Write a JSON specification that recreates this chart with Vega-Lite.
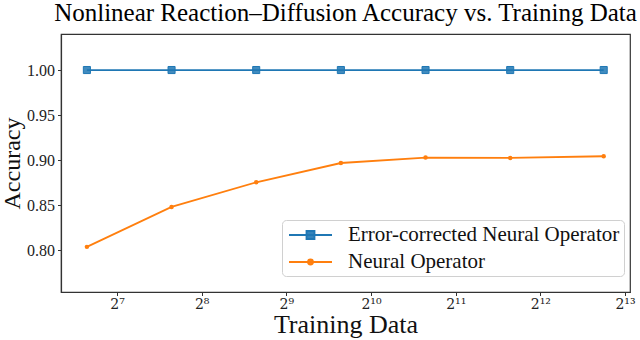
{
  "$schema": "https://vega.github.io/schema/vega-lite/v6.json",
  "autosize": {"type": "none"},
  "padding": {"left": 61, "top": 34, "right": 10, "bottom": 48},
  "width": 569,
  "height": 258,
  "background": "white",
  "title": {
    "text": "Nonlinear Reaction–Diffusion Accuracy vs. Training Data",
    "font": "Liberation Serif",
    "fontSize": 25,
    "fontWeight": "normal",
    "color": "black",
    "anchor": "middle",
    "frame": "group",
    "baseline": "bottom",
    "offset": 6,
    "dy": 23
  },
  "config": {
    "view": {"stroke": "#333333", "strokeWidth": 1.2},
    "axis": {
      "grid": false,
      "domainColor": "#333333",
      "domainWidth": 1.2,
      "tickColor": "#333333",
      "tickSize": 3.5,
      "tickWidth": 1,
      "labelFont": "Liberation Serif",
      "labelFontSize": 16,
      "labelColor": "#222222",
      "titleFont": "Liberation Serif",
      "titleFontSize": 26,
      "titleFontWeight": "normal",
      "titleColor": "#111111"
    }
  },
  "data": {
    "values": [
      {"n": 100, "acc": 1.0, "model": "Error-corrected Neural Operator"},
      {"n": 200, "acc": 1.0, "model": "Error-corrected Neural Operator"},
      {"n": 400, "acc": 1.0, "model": "Error-corrected Neural Operator"},
      {"n": 800, "acc": 1.0, "model": "Error-corrected Neural Operator"},
      {"n": 1600, "acc": 1.0, "model": "Error-corrected Neural Operator"},
      {"n": 3200, "acc": 1.0, "model": "Error-corrected Neural Operator"},
      {"n": 6880, "acc": 1.0, "model": "Error-corrected Neural Operator"},
      {"n": 100, "acc": 0.8037, "model": "Neural Operator"},
      {"n": 200, "acc": 0.848, "model": "Neural Operator"},
      {"n": 400, "acc": 0.8754, "model": "Neural Operator"},
      {"n": 800, "acc": 0.8968, "model": "Neural Operator"},
      {"n": 1600, "acc": 0.9028, "model": "Neural Operator"},
      {"n": 3200, "acc": 0.9024, "model": "Neural Operator"},
      {"n": 6880, "acc": 0.9043, "model": "Neural Operator"}
    ]
  },
  "encoding": {
    "x": {
      "field": "n",
      "type": "quantitative",
      "scale": {"type": "log", "base": 2, "domain": [80.9, 8533], "nice": false},
      "axis": {
        "title": "Training Data",
        "values": [128, 256, 512, 1024, 2048, 4096, 8192],
        "labelExpr": "['2⁷','2⁸','2⁹','2¹⁰','2¹¹','2¹²','2¹³'][round(log(datum.value)/LN2)-7]",
        "labelFont": "DejaVu Serif",
        "labelFontSize": 14,
        "labelBaseline": "alphabetic",
        "labelPadding": 13,
        "titleBaseline": "alphabetic",
        "titleY": 40
      }
    },
    "y": {
      "field": "acc",
      "type": "quantitative",
      "scale": {"domain": [0.7536, 1.04], "nice": false, "zero": false},
      "axis": {
        "title": "Accuracy",
        "titleFontSize": 24,
        "values": [0.8, 0.85, 0.9, 0.95, 1.0],
        "format": ".2f",
        "labelPadding": 3,
        "titleBaseline": "alphabetic",
        "titleX": -42
      }
    }
  },
  "layer": [
    {
      "mark": {"type": "line", "strokeWidth": 1.8},
      "encoding": {
        "color": {
          "field": "model",
          "type": "nominal",
          "scale": {
            "domain": ["Error-corrected Neural Operator", "Neural Operator"],
            "range": ["#1f77b4", "#ff7f0e"]
          },
          "legend": {
            "title": null,
            "orient": "none",
            "legendX": 221,
            "legendY": 186,
            "padding": 4,
            "rowPadding": 6,
            "symbolSize": 400,
            "symbolStrokeWidth": 1.5,
            "labelOffset": 40,
            "labelLimit": 500,
            "labelFont": "Liberation Serif",
            "labelFontSize": 21,
            "labelColor": "#111111",
            "strokeColor": "#d0d0d0",
            "fillColor": "white",
            "cornerRadius": 4,
            "encode": {
              "symbols": {
                "update": {
                  "shape": {"signal": "datum.value === 'Neural Operator' ? 'M-0.8,0H3.5M1.1,0A0.25,0.25 0 1,0 1.6,0A0.25,0.25 0 1,0 1.1,0Z' : 'M-0.8,0H3.5M0.95,-0.4H1.75V0.4H0.95Z'"},
                  "fill": {"scale": "color", "field": "value"},
                  "stroke": {"scale": "color", "field": "value"},
                  "strokeWidth": {"value": 1.8},
                  "opacity": {"value": 1},
                  "fillOpacity": {"value": 0.9}
                }
              }
            }
          }
        }
      }
    },
    {
      "transform": [{"filter": "datum.model === 'Error-corrected Neural Operator'"}],
      "mark": {"type": "point", "shape": "square", "size": 50, "filled": true, "color": "#1f77b4", "fillOpacity": 0.85, "stroke": "#1f77b4", "strokeWidth": 1, "opacity": 1}
    },
    {
      "transform": [{"filter": "datum.model === 'Neural Operator'"}],
      "mark": {"type": "point", "shape": "circle", "size": 20, "filled": true, "color": "#ff7f0e", "opacity": 1}
    }
  ]
}
